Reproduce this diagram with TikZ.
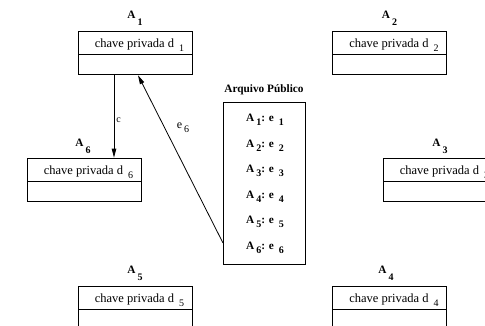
\documentclass[tikz,border=0pt]{standalone}
\usepackage{fontspec}
\setmainfont{Liberation Serif}
\usepackage{tikz}
\usetikzlibrary{arrows.meta}
\newcommand{\lo}[2][4pt]{\hspace{2pt}\raisebox{-#1}{\fontsize{10}{12}\selectfont #2}}
\tikzset{
  chave/.style={draw,minimum width=114pt,minimum height=23pt,inner sep=0pt,
    text height=9pt,text depth=0pt,font=\fontsize{12.5}{14}\selectfont,
    execute at begin node={\hspace{9pt}}},
  vazio/.style={draw,minimum width=114pt,minimum height=20pt,inner sep=0pt,anchor=north},
  rotulo/.style={anchor=base,inner sep=0pt,font=\bfseries\fontsize{11.3}{13}\selectfont},
  seta/.style={-{Triangle[length=9pt,width=4.5pt]}}
}

\begin{document}
\begin{tikzpicture}[x=1pt,y=-1pt,line width=0.8pt]
\clip (0,0) rectangle (485,325);
% participantes
\node[chave] (d1) at (135,42.5) {chave privada d \lo{1}};
\node[vazio] (d1b) at (d1.south) {};
\node[rotulo] (a1) at (135,18) {A\lo[7pt]{1}};
\node[chave] (d2) at (389.5,42.5) {chave privada d \lo{2}};
\node[vazio] (d2b) at (d2.south) {};
\node[rotulo] (a2) at (389.5,18) {A\lo[7pt]{2}};
\node[chave] (d6) at (84,169.5) {chave privada d \lo{6}};
\node[vazio] (d6b) at (d6.south) {};
\node[rotulo] (a6) at (83,146) {A\lo[7pt]{6}};
\node[chave] (d3) at (440,169.5) {chave privada d \lo{3}};
\node[vazio] (d3b) at (d3.south) {};
\node[rotulo] (a3) at (440,146) {A\lo[7pt]{3}};
\node[chave] (d5) at (135,297.5) {chave privada d \lo{5}};
\node[vazio] (d5b) at (d5.south) {};
\node[rotulo] (a5) at (135,273) {A\lo[7pt]{5}};
\node[chave] (d4) at (389.5,297.5) {chave privada d \lo{4}};
\node[vazio] (d4b) at (d4.south) {};
\node[rotulo] (a4) at (386,273) {A\lo[7pt]{4}};
% arquivo publico
\node[draw,minimum width=82pt,minimum height=162pt,inner sep=0pt] (arq) at (264,183.5) {};
\node[rotulo] (tit) at (264,92) {Arquivo Público};
\foreach \i in {1,...,6}
  \node[rotulo] (f\i) at (265,{121.5+25.6*(\i-1)}) {A\lo{\i}: e \lo{\i}};
% setas
\coordinate (cx) at (114,0);
\coordinate (ex) at (138,0);
\coordinate (p6) at (223,243);
\draw[seta] (d1b.south -| cx) -- (d6.north -| cx);
\node[anchor=west,inner sep=0pt,font=\fontsize{10}{12}\selectfont] (lc) at (116,120) {c};
\draw[seta] (p6) -- (d1b.south -| ex);
\node[inner sep=0pt,font=\fontsize{12}{14}\selectfont] (le) at (183,128) {e\lo{6}};
\end{tikzpicture}
\end{document}
